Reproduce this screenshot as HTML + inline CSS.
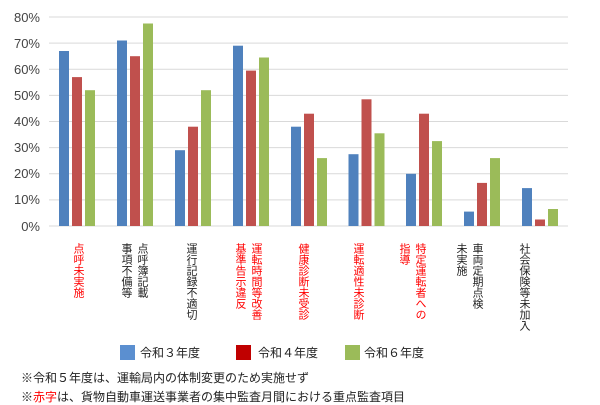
<!DOCTYPE html>
<html><head><meta charset="utf-8"><style>
body{margin:0;width:600px;height:403px;background:#fff;position:relative;overflow:hidden;font-family:"Liberation Sans","Noto Sans CJK JP",sans-serif;}
.lab{position:absolute;top:243px;transform:translateX(-50%);writing-mode:vertical-rl;font-size:11px;line-height:16px;letter-spacing:0;color:#222;white-space:pre;}
.r{color:#f00;}
.t{position:absolute;font-size:12px;color:#222;white-space:nowrap;}
</style></head><body>
<svg width="600" height="403" style="position:absolute;left:0;top:0">
<g stroke="#d9d9d9" stroke-width="1">
<line x1="49" x2="568" y1="17" y2="17"/><line x1="49" x2="568" y1="43.1" y2="43.1"/><line x1="49" x2="568" y1="69.3" y2="69.3"/><line x1="49" x2="568" y1="95.4" y2="95.4"/><line x1="49" x2="568" y1="121.5" y2="121.5"/><line x1="49" x2="568" y1="147.6" y2="147.6"/><line x1="49" x2="568" y1="173.8" y2="173.8"/><line x1="49" x2="568" y1="199.9" y2="199.9"/><line x1="49" x2="568" y1="226" y2="226"/>
</g>
<g font-size="13" fill="#444" text-anchor="end" font-family="Liberation Sans, sans-serif">
<text x="40" y="22">80%</text><text x="40" y="48">70%</text><text x="40" y="74">60%</text><text x="40" y="100">50%</text><text x="40" y="126">40%</text><text x="40" y="152">30%</text><text x="40" y="178">20%</text><text x="40" y="204">10%</text><text x="40" y="231">0%</text>
</g>
<g fill="#4f81bd">
<rect x="59" y="51" width="10" height="175"/><rect x="117" y="40.5" width="10" height="185.5"/><rect x="175" y="150.2" width="10" height="75.8"/><rect x="233" y="45.7" width="10" height="180.3"/><rect x="291" y="126.7" width="10" height="99.3"/><rect x="348.5" y="154.2" width="10" height="71.8"/><rect x="406" y="173.8" width="10" height="52.2"/><rect x="464" y="211.6" width="10" height="14.4"/><rect x="522" y="188.1" width="10" height="37.9"/>
</g>
<g fill="#c0504d">
<rect x="72" y="77.1" width="10" height="148.9"/><rect x="130" y="56.2" width="10" height="169.8"/><rect x="188" y="126.7" width="10" height="99.3"/><rect x="246" y="70.6" width="10" height="155.4"/><rect x="304" y="113.7" width="10" height="112.3"/><rect x="361.5" y="99.3" width="10" height="126.7"/><rect x="419" y="113.7" width="10" height="112.3"/><rect x="477" y="182.9" width="10" height="43.1"/><rect x="535" y="219.5" width="10" height="6.5"/>
</g>
<g fill="#9bbb59">
<rect x="85" y="90.2" width="10" height="135.8"/><rect x="143" y="23.5" width="10" height="202.5"/><rect x="201" y="90.2" width="10" height="135.8"/><rect x="259" y="57.5" width="10" height="168.5"/><rect x="317" y="158.1" width="10" height="67.9"/><rect x="374.5" y="133.3" width="10" height="92.7"/><rect x="432" y="141.1" width="10" height="84.9"/><rect x="490" y="158.1" width="10" height="67.9"/><rect x="548" y="209" width="10" height="17"/>
</g>
<rect x="120" y="345" width="15" height="15" fill="#5b8fd0"/>
<rect x="236" y="345" width="15" height="15" fill="#c00000"/>
<rect x="345" y="345" width="15" height="15" fill="#9bbb59"/>
</svg>
<div class="lab r" style="left:78px">点呼未実施</div>
<div class="lab" style="left:134px">点呼簿記載
事項不備等</div>
<div class="lab" style="left:191px">運行記録不適切</div>
<div class="lab r" style="left:248px">運転時間等改善
基準告示違反</div>
<div class="lab r" style="left:303px">健康診断未受診</div>
<div class="lab r" style="left:358px">運転適性未診断</div>
<div class="lab r" style="left:412px">特定運転者への
指導</div>
<div class="lab" style="left:469px">車両定期点検
未実施</div>
<div class="lab" style="left:524px">社会保険等未加入</div>
<div class="t" style="left:140px;top:344px">令和３年度</div>
<div class="t" style="left:258px;top:344px">令和４年度</div>
<div class="t" style="left:364px;top:344px">令和６年度</div>
<div class="t" style="left:21px;top:369px">※令和５年度は、運輸局内の体制変更のため実施せず</div>
<div class="t" style="left:21px;top:388px">※<span style="color:#f00">赤字</span>は、貨物自動車運送事業者の集中監査月間における重点監査項目</div>
</body></html>
